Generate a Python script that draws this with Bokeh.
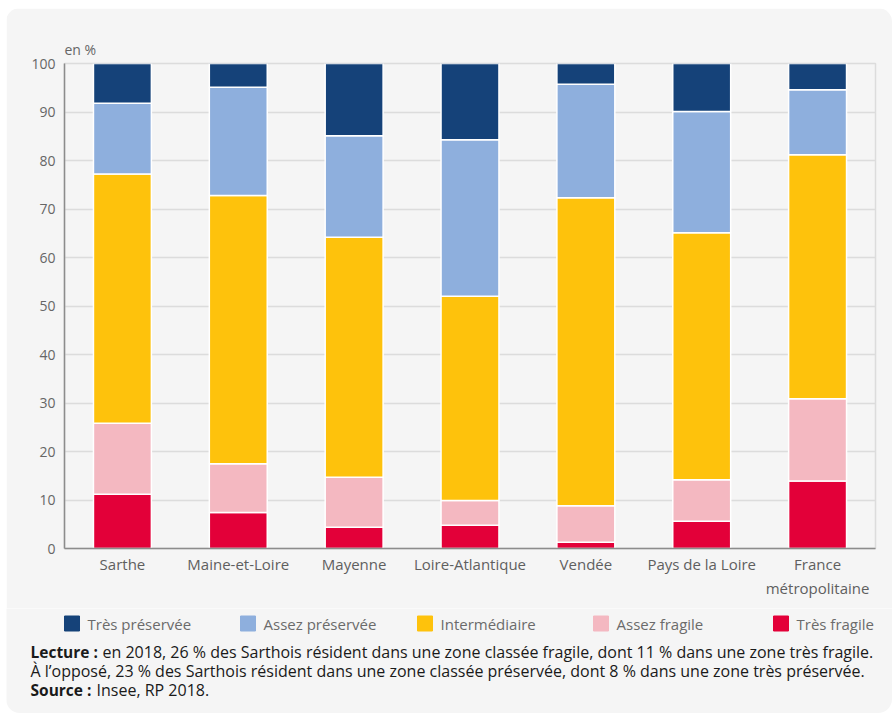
from bokeh.plotting import figure
from bokeh.models import Range1d
from bokeh.layouts import column
from bokeh.core.properties import value
from bokeh.embed import file_html
from bokeh.resources import INLINE

# Share of the population by vulnerability class of the area of residence (%)
territoires = ["Sarthe", "Maine-et-Loire", "Mayenne", "Loire-Atlantique",
               "Vendée", "Pays de la Loire", "France\nmétropolitaine"]
tres_fragile = [11.2, 7.4, 4.4, 4.8, 1.3, 5.6, 13.9]
assez_fragile = [14.6, 10.1, 10.3, 5.1, 7.5, 8.6, 17.0]
intermediaire = [51.4, 55.3, 49.5, 42.1, 63.5, 50.9, 50.3]
assez_preservee = [14.6, 22.3, 20.9, 32.3, 23.4, 25.0, 13.4]
tres_preservee = [8.2, 4.9, 14.9, 15.7, 4.3, 9.9, 5.4]

classes = ["Très fragile", "Assez fragile", "Intermédiaire",
           "Assez préservée", "Très préservée"]
colors = ["#e30039", "#f4b8c1", "#fec20c", "#8eafdd", "#154279"]
y_ticks = [0, 10, 20, 30, 40, 50, 60, 70, 80, 90, 100]

FONT = "Open Sans"
BG = "#f5f5f5"
NOTE_SIZE = "16px"
NOTE_BOLD_SIZE = "15.5px"

data = {"territoire": territoires,
        "Très fragile": tres_fragile,
        "Assez fragile": assez_fragile,
        "Intermédiaire": intermediaire,
        "Assez préservée": assez_preservee,
        "Très préservée": tres_preservee}

# ---- chart panel -------------------------------------------------------
p = figure(width=886, height=600, x_range=territoires, y_range=Range1d(0, 100),
           output_backend="svg", toolbar_location=None,
           min_border_left=58, min_border_right=17, min_border_top=55,
           min_border_bottom=60,
           background_fill_color=BG, border_fill_color=BG,
           outline_line_color="#dcdcdc", outline_line_width=1.5,
           margin=(8, 0, 0, 6), frame_align=False)
p.styles = {"border-radius": "14px 14px 0 0", "overflow": "hidden"}
p.x_range.range_padding = 0

p.title.text = "en %"
p.title.align = "left"
p.title.text_font = FONT
p.title.text_font_size = "14px"
p.title.text_font_style = "normal"
p.title.text_color = "#666666"
p.title.standoff = 10

p.vbar_stack(classes, x="territoire", width=0.5, source=data,
             color=colors, line_color="white", line_width=1.5)

# axes
p.yaxis.ticker = y_ticks
p.yaxis.axis_line_color = "#8c8c8c"
p.yaxis.axis_line_width = 1.5
p.yaxis.major_tick_line_color = None
p.yaxis.major_tick_out = 0
p.yaxis.minor_tick_line_color = None
p.yaxis.major_label_text_font = FONT
p.yaxis.major_label_text_font_size = "14px"
p.yaxis.major_label_text_color = "#666666"
p.yaxis.major_label_standoff = 9

p.xaxis.axis_line_color = "#8c8c8c"
p.xaxis.axis_line_width = 1.5
p.xaxis.major_tick_line_color = None
p.xaxis.major_tick_out = 0
p.xaxis.minor_tick_line_color = None
p.xaxis.major_label_text_font = FONT
p.xaxis.major_label_text_font_size = "15px"
p.xaxis.major_label_text_color = "#5f5f5f"
p.xaxis.major_label_standoff = 5

p.xgrid.grid_line_color = None
p.ygrid.grid_line_color = "#dcdcdc"
p.ygrid.grid_line_width = 1.5

# ---- legend and notes panel (pixel coordinates, y downwards) ----------
q = figure(width=886, height=105, x_range=Range1d(0, 886), y_range=Range1d(105, 0),
           output_backend="svg", toolbar_location=None,
           min_border=0, min_border_left=0, min_border_right=0,
           min_border_top=0, min_border_bottom=0,
           background_fill_color=BG, border_fill_color=BG,
           outline_line_color=None, margin=(0, 0, 2, 6), frame_align=False)
q.styles = {"border-radius": "0 0 14px 14px", "overflow": "hidden"}
q.axis.visible = False
q.grid.visible = False

legend_order = classes[::-1]
legend_colors = colors[::-1]
legend_x = [58, 234, 411, 587, 767]
q.rect(x=[x + 7.5 for x in legend_x], y=[15] * 5, width=15, height=15,
       color=legend_colors)
q.text(x=[x + 23 for x in legend_x], y=[15] * 5, text=legend_order,
       text_font=value(FONT), text_font_size="15px", text_color="#6b6b6b",
       text_baseline="middle", text_align="left")

note_bold = ["Lecture :", "Source :"]
note_bold_y = [43, 81]
q.text(x=[24, 24], y=note_bold_y, text=note_bold,
       text_font=value(FONT), text_font_size=NOTE_BOLD_SIZE, text_font_style="bold",
       text_color="#1a1a1a", text_baseline="middle", text_align="left")

note_text = [
    "en 2018, 26 % des Sarthois résident dans une zone classée fragile, "
    "dont 11 % dans une zone très fragile.",
    "À l’opposé, 23 % des Sarthois résident dans une zone classée préservée, "
    "dont 8 % dans une zone très préservée.",
    "Insee, RP 2018.",
]
q.text(x=[96, 24, 90], y=[43, 62, 81], text=note_text,
       text_font=value(FONT), text_font_size=NOTE_SIZE,
       text_color="#1a1a1a", text_baseline="middle", text_align="left")

layout = column(p, q, spacing=0)
open("out.html", "w").write(file_html(layout, INLINE))
